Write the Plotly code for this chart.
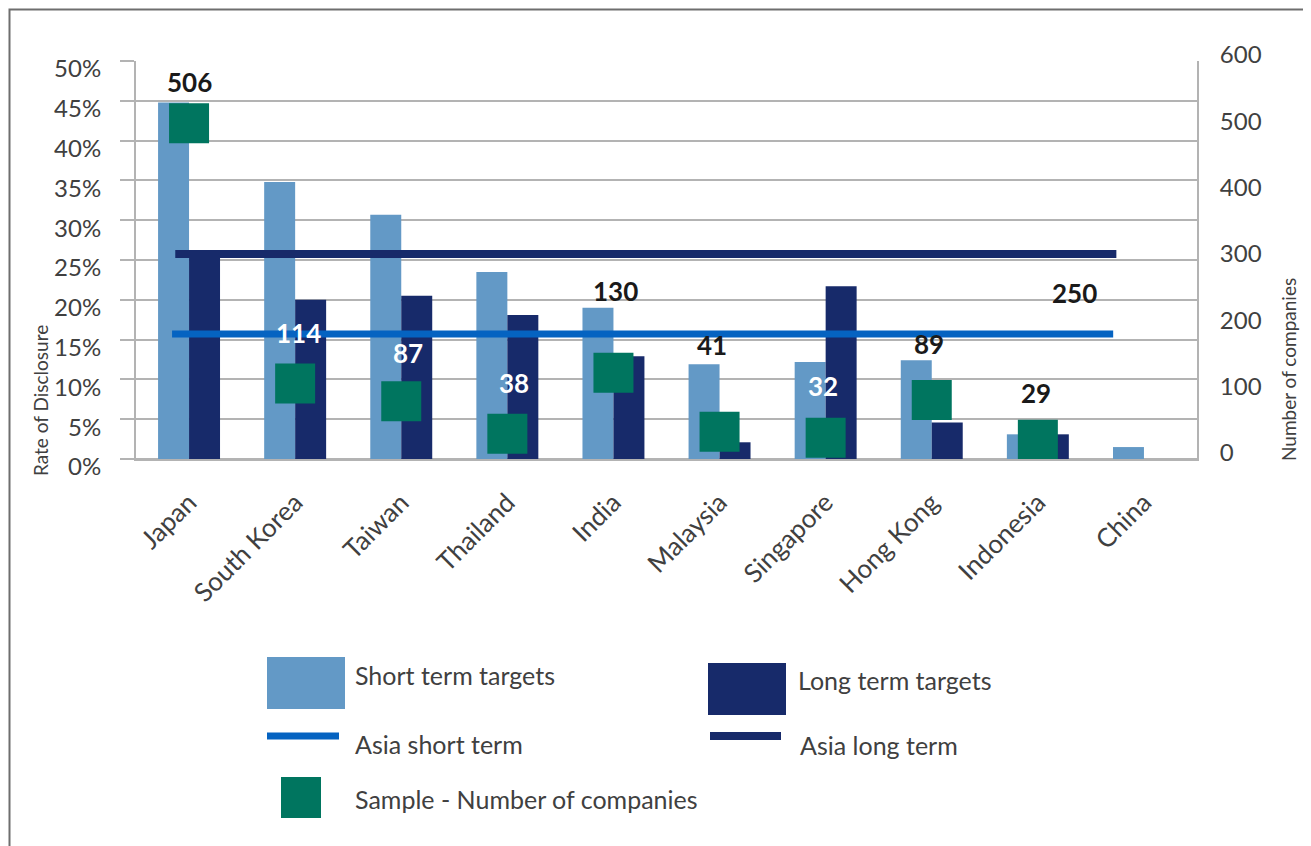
import plotly.graph_objects as go

# ---------------- data ----------------
countries = ["Japan", "South Korea", "Taiwan", "Thailand", "India",
             "Malaysia", "Singapore", "Hong Kong", "Indonesia", "China"]
short_term = [44.8, 34.8, 30.7, 23.5, 19.0, 11.9, 12.2, 12.4, 3.1, 1.5]
long_term = [25.5, 20.0, 20.5, 18.1, 12.9, 2.1, 21.7, 4.6, 3.1, 0.0]
companies = [506, 114, 87, 38, 130, 41, 32, 89, 29, 250]
asia_short = 15.7
asia_long = 25.75
pct_ticks = list(range(0, 55, 5))
pct_labels = [f"{v}%" for v in pct_ticks]
count_ticks = list(range(0, 700, 100))

# ---------------- styles / positions ----------------
OFF = 8  # page body margin in the browser
W, H = 1311 - OFF, 846 - OFF
PL, PR, PT, PB = 136, 1197, 61, 459  # plot area in page px
C_SHORT = "#6399c6"
C_LONG = "#172a6a"
C_GREEN = "#00755f"
C_ASIA_SHORT = "#0563c1"
C_ASIA_LONG = "#172a6a"
C_GRID = "#b3b3b3"
C_TEXT = "#404040"
FONT = "Lato"

marker_visible = [1, 1, 1, 1, 1, 1, 1, 1, 1, 0]
label_yshift = [41, 50, 48, 51, 82, 87, 52, 56, 47, 0]
label_xshift = [0, 3, 7, 7, 2, -8, -3, -3, -2, -69]
label_color = ["#1a1a1a", "white", "white", "white", "#1a1a1a",
               "#1a1a1a", "white", "#1a1a1a", "#1a1a1a", "#1a1a1a"]
line_short_span = [-0.16, 8.71]
line_long_span = [-0.13, 8.74]


def px(xp):
    return (xp - PL) / (PR - PL)


def py(yp):
    return (PB - yp) / (PB - PT)


fig = go.Figure()

fig.add_trace(go.Bar(x=countries, y=short_term, name="Short term targets",
                     marker=dict(color=C_SHORT, line=dict(width=0))))
fig.add_trace(go.Bar(x=countries, y=long_term, name="Long term targets",
                     marker=dict(color=C_LONG, line=dict(width=0))))

fig.add_trace(go.Scatter(x=line_short_span, y=[asia_short, asia_short],
                         xaxis="x2", yaxis="y", mode="lines",
                         name="Asia short term",
                         line=dict(color=C_ASIA_SHORT, width=7)))
fig.add_trace(go.Scatter(x=line_long_span, y=[asia_long, asia_long],
                         xaxis="x2", yaxis="y", mode="lines",
                         name="Asia long term",
                         line=dict(color=C_ASIA_LONG, width=8)))

fig.add_trace(go.Scatter(x=countries, y=companies, xaxis="x", yaxis="y2",
                         mode="markers", name="Sample - Number of companies",
                         marker=dict(symbol="square", size=40, color=C_GREEN,
                                     opacity=marker_visible,
                                     line=dict(width=0))))

annotations = []
for c, v, dx, dy, col in zip(countries, companies, label_xshift,
                             label_yshift, label_color):
    annotations.append(dict(x=c, y=v, xref="x", yref="y2", text=f"<b>{v}</b>",
                            showarrow=False, xshift=dx, yshift=dy,
                            xanchor="center", yanchor="middle",
                            font=dict(family=FONT, size=26, color=col)))

# axis titles
annotations.append(dict(x=px(40), y=py(401), xref="paper", yref="paper",
                        text="Rate of Disclosure", textangle=-90,
                        showarrow=False, xanchor="center", yanchor="middle",
                        font=dict(family=FONT, size=19, color=C_TEXT)))
annotations.append(dict(x=px(1288), y=py(370), xref="paper", yref="paper",
                        text="Number of companies", textangle=-90,
                        showarrow=False, xanchor="center", yanchor="middle",
                        font=dict(family=FONT, size=19, color=C_TEXT)))

# manual legend
legend_texts = [("Short term targets", 353, 675),
                ("Long term targets", 796, 680),
                ("Asia short term", 353, 744),
                ("Asia long term", 798, 745),
                ("Sample - Number of companies", 353, 799)]
for t, xx, yy in legend_texts:
    annotations.append(dict(x=px(xx), y=py(yy), xref="paper", yref="paper",
                            text=t, showarrow=False, xanchor="left",
                            yanchor="middle",
                            font=dict(family=FONT, size=25, color=C_TEXT)))

shapes = [
    # outer frame (kept just inside the figure area)
    dict(type="rect", xref="paper", yref="paper", x0=px(OFF + 1.5),
         x1=px(1308), y0=py(900), y1=py(OFF + 1.5),
         line=dict(color="#6e6e6e", width=2),
         fillcolor="rgba(0,0,0,0)", layer="below"),
    # legend swatches
    dict(type="rect", xref="paper", yref="paper", x0=px(267), x1=px(345),
         y0=py(709), y1=py(657), fillcolor=C_SHORT, line=dict(width=0)),
    dict(type="rect", xref="paper", yref="paper", x0=px(708), x1=px(786),
         y0=py(715), y1=py(663), fillcolor=C_LONG, line=dict(width=0)),
    dict(type="line", xref="paper", yref="paper", x0=px(267), x1=px(339),
         y0=py(736), y1=py(736), line=dict(color=C_ASIA_SHORT, width=7)),
    dict(type="line", xref="paper", yref="paper", x0=px(710), x1=px(781),
         y0=py(736), y1=py(736), line=dict(color=C_ASIA_LONG, width=8)),
    dict(type="rect", xref="paper", yref="paper", x0=px(281), x1=px(321),
         y0=py(818), y1=py(777), fillcolor=C_GREEN, line=dict(width=0)),
]

fig.update_layout(
    width=W, height=H,
    margin=dict(l=PL - OFF, r=W + OFF - PR, t=PT - OFF, b=H + OFF - PB,
                autoexpand=False),
    paper_bgcolor="white", plot_bgcolor="white",
    barmode="group", bargap=0.416, bargroupgap=0,
    showlegend=False,
    font=dict(family=FONT, color=C_TEXT),
    xaxis=dict(type="category", range=[-0.5, 9.5], showgrid=False,
               showline=True, linecolor=C_GRID, linewidth=2,
               ticks="", tickangle=-45, ticklabelstandoff=16,
               tickfont=dict(family=FONT, size=26, color=C_TEXT)),
    xaxis2=dict(overlaying="x", range=[-0.5, 9.5], visible=False),
    yaxis=dict(range=[0, 50], tickvals=pct_ticks, ticktext=pct_labels,
               showgrid=True, gridcolor=C_GRID, gridwidth=2,
               zeroline=True, zerolinecolor=C_GRID, zerolinewidth=2,
               showline=True, linecolor=C_GRID, linewidth=2,
               ticks="outside", ticklen=14, tickwidth=2, tickcolor=C_GRID,
               ticklabelstandoff=14, ticklabelshift=8,
               tickfont=dict(family=FONT, size=24, color=C_TEXT)),
    yaxis2=dict(overlaying="y", side="right", range=[0, 600],
                tickvals=count_ticks, showgrid=False, zeroline=False,
                showline=True, linecolor=C_GRID, linewidth=2, ticks="",
                ticklabelstandoff=16, ticklabelshift=-6,
                tickfont=dict(family=FONT, size=24, color=C_TEXT)),
    annotations=annotations,
    shapes=shapes,
)

fig.write_html("out.html")
